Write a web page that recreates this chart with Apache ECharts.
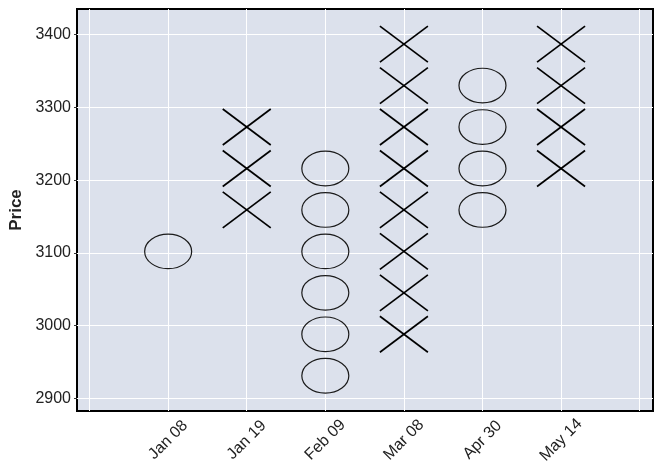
<!DOCTYPE html>
<html>
<head>
<meta charset="utf-8">
<script src="https://cdn.jsdelivr.net/npm/echarts@6/dist/echarts.min.js"></script>
<style>
html,body{margin:0;padding:0;background:#fff;}
#chart{width:662px;height:476px;}
</style>
</head>
<body>
<div id="chart"></div>
<script>
// Column labels (dates) of the point & figure chart
const categories = ['Jan 08', 'Jan 19', 'Feb 09', 'Mar 08', 'Apr 30', 'May 14'];
// Column type: X = rising, O = falling
const columnTypes = ['O', 'X', 'O', 'X', 'O', 'X'];
// Box prices drawn in each column
const colJan08 = [3102];
const colJan19 = [3159, 3216, 3273];
const colFeb09 = [2931, 2988, 3045, 3102, 3159, 3216];
const colMar08 = [2988, 3045, 3102, 3159, 3216, 3273, 3330, 3387];
const colApr30 = [3159, 3216, 3273, 3330];
const colMay14 = [3216, 3273, 3330, 3387];
const columns = [colJan08, colJan19, colFeb09, colMar08, colApr30, colMay14];
// Axis ticks
const yTicks = [2900, 3000, 3100, 3200, 3300, 3400];
const xGridTicks = [-1, 0, 1, 2, 3, 4, 5, 6];

const data = [];
columns.forEach((col, i) => col.forEach(v => data.push([i, v, columnTypes[i] === 'X' ? 1 : 0])));

const chart = echarts.init(document.getElementById('chart'), null, {renderer: 'canvas'});
const textColor = '#222222';
const font = 'Liberation Sans, Arial, sans-serif';

chart.setOption({
  backgroundColor: '#ffffff',
  animation: false,
  grid: {
    left: 77, top: 9, right: 9, bottom: 65,
    outerBoundsMode: 'none',
    containLabel: false,
    show: true,
    backgroundColor: '#dce1ec',
    borderColor: '#000',
    borderWidth: 2
  },
  xAxis: {
    type: 'value',
    min: -1.16, max: 6.17,
    axisLine: {show: false, onZero: false},
    axisTick: {show: false, customValues: xGridTicks},
    splitLine: {show: true, lineStyle: {color: '#ffffff', width: 1}},
    axisLabel: {
      customValues: categories.map((c, i) => i),
      formatter: v => categories[Math.round(v)] || '',
      rotate: 45,
      align: 'center',
      verticalAlign: 'middle',
      margin: 29,
      color: textColor,
      fontSize: 16,
      fontFamily: font
    }
  },
  yAxis: {
    type: 'value',
    min: 2882.5, max: 3435.3,
    name: 'Price',
    nameLocation: 'middle',
    nameGap: 47,
    nameRotate: 90,
    nameTextStyle: {color: textColor, fontSize: 17, fontWeight: 'bold', fontFamily: font},
    axisLine: {show: false, onZero: false},
    axisTick: {show: true, length: 3, customValues: yTicks, lineStyle: {color: '#333', width: 1}},
    splitLine: {show: true, lineStyle: {color: '#ffffff', width: 1}},
    axisLabel: {
      customValues: yTicks,
      formatter: v => String(v),
      margin: 6,
      color: textColor,
      fontSize: 16,
      fontFamily: font
    }
  },
  series: [{
    type: 'custom',
    clip: false,
    data: data,
    renderItem: function (params, api) {
      const p = api.coord([api.value(0), api.value(1)]);
      if (api.value(2) === 1) {
        const w = 24, h = 18;
        return {
          type: 'group',
          children: [
            {type: 'line', shape: {x1: p[0] - w, y1: p[1] - h, x2: p[0] + w, y2: p[1] + h},
             style: {stroke: '#000', lineWidth: 1.7}},
            {type: 'line', shape: {x1: p[0] - w, y1: p[1] + h, x2: p[0] + w, y2: p[1] - h},
             style: {stroke: '#000', lineWidth: 1.7}}
          ]
        };
      }
      return {
        type: 'ellipse',
        shape: {cx: p[0], cy: p[1], rx: 23.5, ry: 17.3},
        style: {fill: 'none', stroke: '#1a1a1a', lineWidth: 1.2}
      };
    }
  }]
});
</script>
</body>
</html>
